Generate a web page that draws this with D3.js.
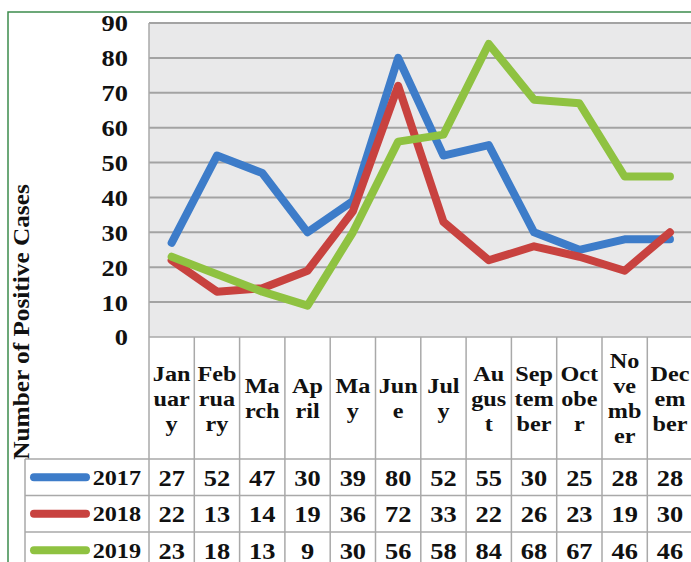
<!DOCTYPE html>
<html>
<head>
<meta charset="utf-8">
<script src="https://cdn.jsdelivr.net/npm/d3@7/dist/d3.min.js"></script>
<style>
  html, body { margin: 0; padding: 0; background: #fff; }
  svg { display: block; }
  text { font-family: "Liberation Serif", "Times New Roman", serif; font-weight: bold; fill: #111; }
</style>
</head>
<body>
<svg id="chart" width="691" height="562"></svg>
<script>
// ---- data ----
const months = ["January","February","March","April","May","June","July","August","September","October","November","December"];
const monthLabelLines = [
  ["Jan","uar","y"], ["Feb","rua","ry"], ["Ma","rch"], ["Ap","ril"], ["Ma","y"], ["Jun","e"],
  ["Jul","y"], ["Au","gus","t"], ["Sep","tem","ber"], ["Oct","obe","r"], ["No","ve","mb","er"], ["Dec","em","ber"]
];
const seriesNames = ["2017","2018","2019"];
const values2017 = [27,52,47,30,39,80,52,55,30,25,28,28];
const values2018 = [22,13,14,19,36,72,33,22,26,23,19,30];
const values2019 = [23,18,13,9,30,56,58,84,68,67,46,46];
const yTicks = [0,10,20,30,40,50,60,70,80,90];
const yTitle = "Number of Positive Cases";

const seriesValues = [values2017, values2018, values2019];
const colors = ["#3D7CC9", "#C8423F", "#8FC241"];

// ---- layout ----
const svg = d3.select("#chart");
const plotLeft = 149, plotRight = 692.6, plotTop = 23, plotBottom = 337;
const headerBottom = 459;
const rowH = 36.5;
const tableLeft = 25;
const SX = 1.1; // horizontal glyph stretch seen in reference

const x = d3.scaleBand().domain(months).range([plotLeft, plotRight]).padding(0);
const y = d3.scaleLinear().domain([0, 90]).range([plotBottom, plotTop]);

function label(px, py, txt, size, anchor, rotate) {
  const g = svg.append("g")
    .attr("transform", `translate(${px},${py})` + (rotate ? ` rotate(${rotate})` : "") + ` scale(${SX},1)`);
  return g.append("text")
    .attr("text-anchor", anchor)
    .attr("dy", "0.35em")
    .attr("font-size", size)
    .text(txt);
}

// outer green frame
svg.append("path")
  .attr("d", `M8,562 L8,12 L700,12`)
  .attr("fill", "none").attr("stroke", "#3d8c4c").attr("stroke-width", 1.5);

// plot background
svg.append("rect")
  .attr("x", plotLeft).attr("y", plotTop)
  .attr("width", plotRight - plotLeft).attr("height", plotBottom - plotTop)
  .attr("fill", "#e9e9ea");

// gridlines
svg.append("g").selectAll("line").data(yTicks.filter(d => d > 0)).join("line")
  .attr("x1", plotLeft).attr("x2", plotRight)
  .attr("y1", d => y(d)).attr("y2", d => y(d))
  .attr("stroke", "#a3a3a3").attr("stroke-width", 2);

// y axis (scale-driven tick positions), labels drawn stretched
const yAxis = d3.axisLeft(y).tickValues(yTicks).tickSize(0).tickPadding(0).tickFormat("");
const yg = svg.append("g").attr("transform", `translate(${plotLeft},0)`).call(yAxis);
yg.select(".domain").remove();
yTicks.forEach(t => label(plotLeft - 21, y(t), String(t), 24, "end"));

// y title
label(21, 322, yTitle, 23, "middle", -90);

// table grid
const gridColor = "#a9a9a9";
const tg = svg.append("g").attr("stroke", gridColor).attr("stroke-width", 1.5);
tg.append("line").attr("x1", plotLeft).attr("x2", plotRight).attr("y1", plotBottom).attr("y2", plotBottom);
for (let i = 0; i <= seriesNames.length; i++) {
  const yy = headerBottom + i * rowH;
  tg.append("line").attr("x1", tableLeft).attr("x2", plotRight).attr("y1", yy).attr("y2", yy);
}
tg.append("line").attr("x1", tableLeft).attr("x2", tableLeft).attr("y1", headerBottom).attr("y2", 570);
months.forEach(m => {
  tg.append("line").attr("x1", x(m)).attr("x2", x(m)).attr("y1", plotBottom).attr("y2", 570);
});
tg.append("line").attr("x1", plotLeft).attr("x2", plotLeft).attr("y1", plotTop).attr("y2", plotBottom);

// header labels
const lineGap = 25;
const headerMid = (plotBottom + headerBottom) / 2;
months.forEach((m, i) => {
  const lines = monthLabelLines[i];
  const startY = headerMid - (lines.length - 1) * lineGap / 2;
  lines.forEach((ln, j) => {
    label(x(m) + x.bandwidth() / 2, startY + j * lineGap, ln, 22, "middle");
  });
});

// lines
const line = d3.line()
  .x((d, i) => x(months[i]) + x.bandwidth() / 2)
  .y(d => y(d));

seriesValues.forEach((vals, s) => {
  svg.append("path")
    .datum(vals)
    .attr("d", line)
    .attr("fill", "none")
    .attr("stroke", colors[s])
    .attr("stroke-width", 8)
    .attr("stroke-linejoin", "round")
    .attr("stroke-linecap", "round");
});

// table rows
seriesNames.forEach((name, s) => {
  const cy = headerBottom + s * rowH + rowH / 2;
  svg.append("line")
    .attr("x1", 34).attr("x2", 86).attr("y1", cy).attr("y2", cy)
    .attr("stroke", colors[s]).attr("stroke-width", 8).attr("stroke-linecap", "round");
  label(141, cy, name, 22, "end");
  seriesValues[s].forEach((v, i) => {
    label(x(months[i]) + x.bandwidth() / 2, cy, String(v), 24, "middle");
  });
});
</script>
</body>
</html>
